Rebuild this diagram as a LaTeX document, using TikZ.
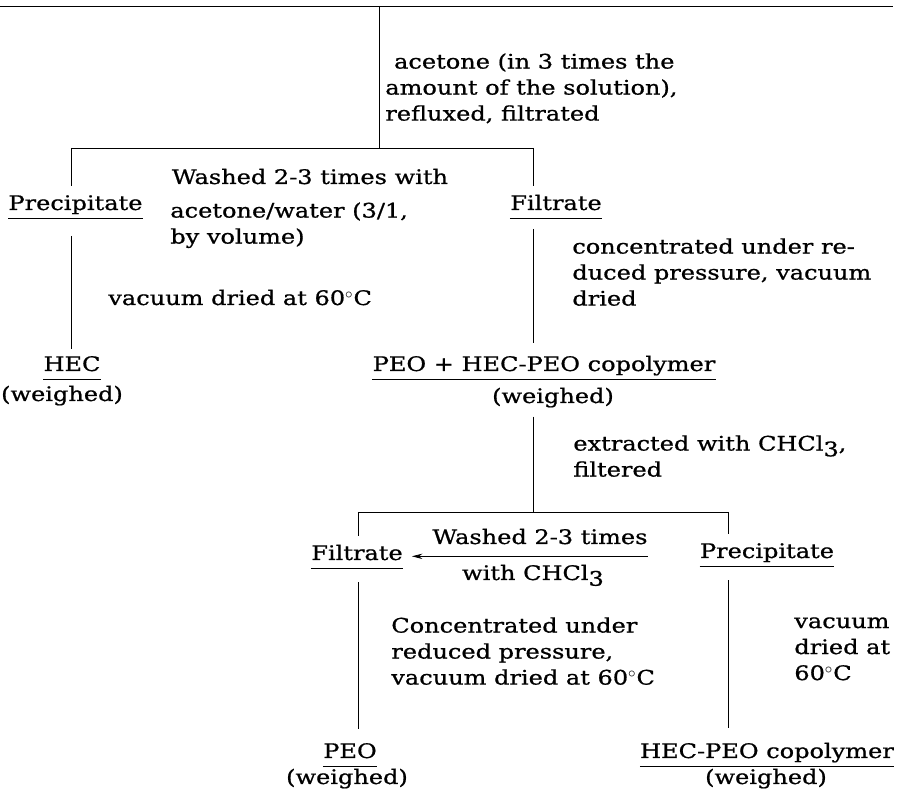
\documentclass[tikz,border=0pt]{standalone}
\usepackage{fontspec}
\usepackage{tikz}
\usetikzlibrary{arrows.meta}
\newfontfamily\typefont[FakeStretch=1.2,FakeBold=0.8]{DejaVu Serif}
\newcommand{\lowsub}[1]{\raisebox{-0.55ex}{#1}}

\begin{document}
\begin{tikzpicture}[scale=0.2,
  tw/.style={font=\typefont\fontsize{11.4}{14.8}\selectfont, align=left},
  prod/.style={tw, text depth=4.5pt}]
\tikzstyle{every node}+=[inner sep=0pt]
\useasboundingbox (0,0) rectangle (90.1,-79.5);
\coordinate (top0) at (0,-0.6);
\coordinate (top1) at (89.3,-0.6);
\coordinate (trunk) at (37.9,-0.6);
\coordinate (fork1) at (37.9,-14.8);
\coordinate (fork1l) at (7.1,-14.8);
\coordinate (fork1r) at (53.3,-14.8);
\coordinate (fork2) at (53.3,-51.2);
\coordinate (fork2l) at (35.8,-51.2);
\coordinate (fork2r) at (72.8,-51.2);
\node (acet) [tw, anchor=north west] at (38.5,-5.3) {\hspace*{5pt}acetone (in 3 times the\\amount of the solution),\\refluxed, filtrated};
\node (prec1) [prod, anchor=base] at (7.55,-21.0) {Precipitate};
\node (filt1) [prod, anchor=base] at (55.6,-21.0) {Filtrate};
\node (wash1) [tw, anchor=base] at (31.0,-18.4) {Washed 2-3 times with};
\node (wash1b) [tw, anchor=north west] at (17.0,-20.2) {acetone/water (3/1,\\by volume)};
\node (dry1) [tw, anchor=base west] at (10.8,-30.5) {vacuum dried at 60$^\circ$C};
\node (hec) [prod, anchor=base] at (7.2,-37.1) {HEC};
\node (w1) [tw, anchor=base] at (6.2,-40.1) {(weighed)};
\node (conc1) [tw, anchor=north west] at (57.2,-23.8) {concentrated under re-\\duced pressure, vacuum\\dried};
\node (mix) [prod, anchor=base] at (54.4,-37.1) {PEO + HEC-PEO copolymer};
\node (w2) [tw, anchor=base] at (55.3,-40.3) {(weighed)};
\node (extr) [tw, anchor=north west] at (57.3,-43.5) {extracted with CHCl\lowsub{3},\\filtered};
\node (filt2) [prod, anchor=base] at (35.7,-56.0) {Filtrate};
\node (prec2) [prod, anchor=base] at (76.7,-55.8) {Precipitate};
\node (wash2) [tw, anchor=base] at (54.0,-54.4) {Washed 2-3 times};
\node (wash2b) [tw, anchor=base] at (53.3,-58.0) {with CHCl\lowsub{3}};
\node (conc2) [tw, anchor=north west] at (39.1,-61.7) {Concentrated under\\reduced pressure,\\vacuum dried at 60$^\circ$C};
\node (vac) [tw, anchor=north west] at (79.4,-61.7) {vacuum\\dried at\\60$^\circ$C};
\node (peo) [prod, anchor=base] at (35.0,-75.8) {PEO};
\node (w3) [tw, anchor=base] at (34.7,-78.4) {(weighed)};
\node (copo) [prod, anchor=base] at (76.7,-75.8) {HEC-PEO copolymer};
\node (w4) [tw, anchor=base] at (76.6,-78.4) {(weighed)};
\draw (top0) -- (top1);
\draw (trunk) -- (fork1);
\draw (fork1l) -- (fork1r);
\draw [shorten >=5pt] (fork1l) -- (fork1l |- prec1.north);
\draw [shorten >=5pt] (fork1r) -- (fork1r |- filt1.north);
\foreach \n in {prec1,filt1,hec,mix,filt2,prec2,peo,copo}
  \draw (\n.south west) -- (\n.south east);
\draw [shorten <=10pt, shorten >=4pt] (fork1l |- prec1.south) -- (fork1l |- hec.north);
\draw [shorten <=6pt, shorten >=7pt] (filt1.south -| fork2) -- (mix.north -| fork2);
\draw [shorten <=5pt] (w2.south -| fork2) -- (fork2);
\draw (fork2l) -- (fork2r);
\draw [shorten >=5pt] (fork2l) -- (fork2l |- filt2.north);
\draw [shorten >=5pt] (fork2r) -- (fork2r |- prec2.north);
\draw [-{Stealth[length=6pt,width=3pt]}, shorten >=5pt] (filt2.east -| wash2.east) -- (filt2.east);
\draw [shorten <=8pt, shorten >=8pt] (fork2l |- filt2.south) -- (fork2l |- peo.north);
\draw [shorten <=8pt, shorten >=8pt] (fork2r |- prec2.south) -- (fork2r |- copo.north);
\end{tikzpicture}
\end{document}
